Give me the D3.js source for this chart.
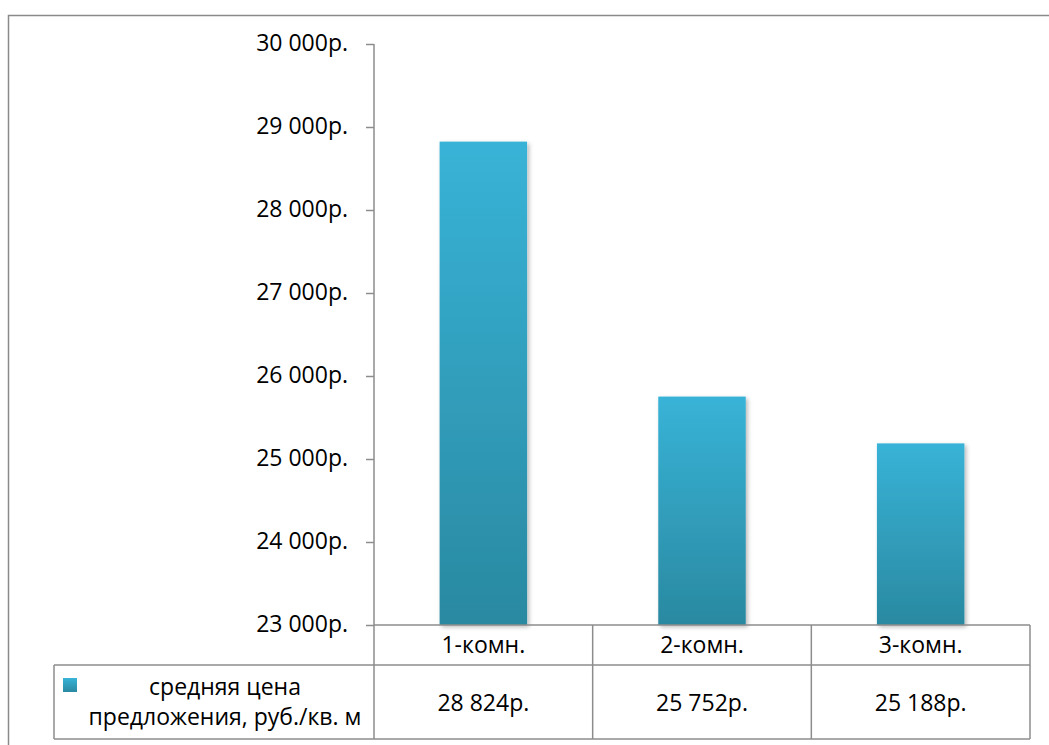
<!DOCTYPE html>
<html>
<head>
<meta charset="utf-8">
<script src="https://cdn.jsdelivr.net/npm/d3@7"></script>
<style>
  html, body { margin: 0; padding: 0; background: #fff; }
  svg { display: block; }
  text { font-family: "Open Sans", "Noto Sans", sans-serif; fill: #000; }
</style>
</head>
<body>
<svg id="chart" width="1049" height="745"></svg>
<script>
// Average asking price per square metre by apartment size
const categories = ["1-комн.", "2-комн.", "3-комн."];
const prices = [28824, 25752, 25188];
const yTicks = [23000, 24000, 25000, 26000, 27000, 28000, 29000, 30000];
const seriesName = ["средняя цена", "предложения, руб./кв. м"];

const fmt = v => d3.format(",")(v).replace(/,/g, " ") + "р.";
const FONT = 23;

const svg = d3.select("#chart");
const defs = svg.append("defs");

const grad = defs.append("linearGradient")
  .attr("id", "barFill").attr("x1", 0).attr("y1", 0).attr("x2", 0).attr("y2", 1);
grad.append("stop").attr("offset", "0%").attr("stop-color", "#38b3d7");
grad.append("stop").attr("offset", "100%").attr("stop-color", "#2a89a1");

const shadow = defs.append("filter").attr("id", "shadow")
  .attr("x", "-10%").attr("y", "-10%").attr("width", "130%").attr("height", "130%");
shadow.append("feDropShadow").attr("dx", 2).attr("dy", 2)
  .attr("stdDeviation", 2).attr("flood-color", "#000").attr("flood-opacity", 0.28);

const lineShadow = defs.append("filter").attr("id", "lineShadow")
  .attr("x", "-5%").attr("y", "-200%").attr("width", "110%").attr("height", "500%");
lineShadow.append("feDropShadow").attr("dx", 0).attr("dy", 1.5)
  .attr("stdDeviation", 0.8).attr("flood-color", "#000").attr("flood-opacity", 0.18);

// Outer chart frame
svg.append("rect")
  .attr("x", 8.5).attr("y", 15.5).attr("width", 1060).attr("height", 760)
  .attr("fill", "none").attr("stroke", "#8a8a8a").attr("stroke-width", 1.5);

const plot = { left: 374, right: 1030, top: 44, bottom: 625 };
const tableRow1 = 665, tableBottom = 739, legendLeft = 54;

const x = d3.scaleBand().domain(categories)
  .range([plot.left, plot.right]).paddingInner(0.6).paddingOuter(0.3);
const xCell = d3.scaleBand().domain(categories).range([plot.left, plot.right]);
const y = d3.scaleLinear().domain([23000, 30000]).range([plot.bottom, plot.top]);

const gridColor = "#8c8c8c";

// Gridlines
svg.append("g").selectAll("line").data(yTicks.filter(t => t > 23000)).join("line")
  .attr("x1", plot.left).attr("x2", plot.right)
  .attr("y1", d => y(d)).attr("y2", d => y(d))
  .attr("stroke", gridColor).attr("stroke-width", 1.5)
  .attr("filter", "url(#lineShadow)");

// Y axis with outward ticks
const yAxis = d3.axisLeft(y).tickValues(yTicks).tickFormat(fmt).tickSize(8).tickPadding(18);
const gy = svg.append("g").attr("transform", `translate(${plot.left},0)`).call(yAxis);
gy.attr("font-size", null).attr("font-family", null);
gy.select(".domain").remove();
gy.selectAll(".tick line").attr("stroke", gridColor).attr("stroke-width", 1.5);
gy.selectAll(".tick text").attr("font-size", FONT).attr("dy", "0.3em").attr("fill", "#000");

// Bars
svg.append("g").selectAll("rect").data(prices).join("rect")
  .attr("x", (d, i) => x(categories[i]))
  .attr("width", x.bandwidth())
  .attr("y", d => y(d))
  .attr("height", d => y(23000) - y(d))
  .attr("fill", "url(#barFill)")
  .attr("filter", "url(#shadow)");

// Data table below the plot
const tbl = svg.append("g").attr("stroke", gridColor).attr("stroke-width", 1.5).attr("fill", "none");
tbl.append("line").attr("x1", plot.left).attr("x2", plot.left).attr("y1", plot.top).attr("y2", tableBottom);
tbl.append("line").attr("x1", plot.left).attr("x2", plot.right).attr("y1", plot.bottom).attr("y2", plot.bottom);
tbl.append("line").attr("x1", legendLeft).attr("x2", plot.right).attr("y1", tableRow1).attr("y2", tableRow1);
tbl.append("line").attr("x1", legendLeft).attr("x2", plot.right).attr("y1", tableBottom).attr("y2", tableBottom);
tbl.append("line").attr("x1", legendLeft).attr("x2", legendLeft).attr("y1", tableRow1).attr("y2", tableBottom);
tbl.selectAll("line.col").data(categories).join("line").attr("class", "col")
  .attr("x1", d => xCell(d) + xCell.bandwidth()).attr("x2", d => xCell(d) + xCell.bandwidth())
  .attr("y1", plot.bottom).attr("y2", tableBottom);

// Category labels
svg.append("g").selectAll("text").data(categories).join("text")
  .attr("x", d => xCell(d) + xCell.bandwidth() / 2)
  .attr("y", 653)
  .attr("text-anchor", "middle").attr("font-size", FONT)
  .text(d => d);

// Value cells
svg.append("g").selectAll("text").data(prices).join("text")
  .attr("x", (d, i) => xCell(categories[i]) + xCell.bandwidth() / 2)
  .attr("y", 711)
  .attr("text-anchor", "middle").attr("font-size", FONT)
  .text(d => fmt(d));

// Legend key and series name
svg.append("rect").attr("x", 63).attr("y", 678).attr("width", 14).attr("height", 14)
  .attr("fill", "url(#barFill)");
svg.append("g").selectAll("text").data(seriesName).join("text")
  .attr("x", 225).attr("y", (d, i) => 695 + i * 30)
  .attr("text-anchor", "middle").attr("font-size", FONT)
  .text(d => d);
</script>
</body>
</html>
